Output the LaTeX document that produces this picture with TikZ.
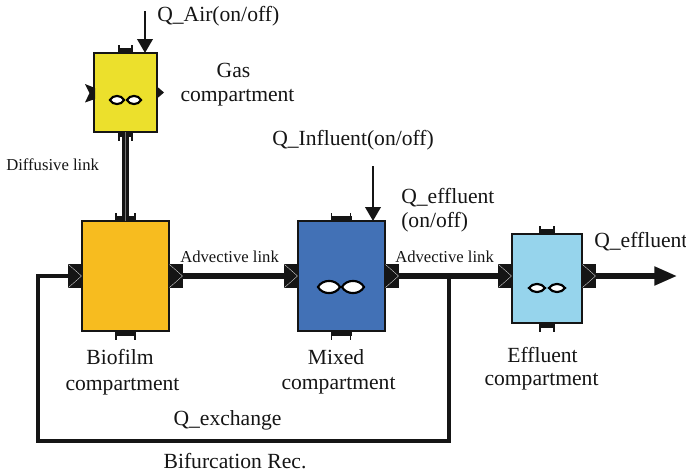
\documentclass[tikz,border=0pt]{standalone}
\usepackage{fontspec}
\setmainfont{Liberation Serif}
\usetikzlibrary{arrows.meta}
\definecolor{inkk}{HTML}{151515}
\tikzset{
  x=0.75pt,y=-0.75pt,
  tank/.style={draw=inkk,line width=1pt,inner sep=0pt,outer sep=0pt},
  portbox/.style={fill=inkk,inner sep=0pt,outer sep=0pt,minimum width=10.5pt,minimum height=18pt},
  thinport/.style={draw=white,line width=0.2pt},
  tab/.style={draw=inkk,line width=1.4pt},
  link/.style={draw=inkk,line width=3.8pt},
  core/.style={draw=black!55,line width=0.15pt},
  rec/.style={draw=inkk,line width=3.2pt,line join=miter},
  flow/.style={draw=inkk,line width=2.1pt,-{Triangle[length=10.5pt,width=11.5pt]}},
  outflow/.style={draw=inkk,line width=3.8pt,-{Triangle[length=17pt,width=13.5pt]}},
  bigq/.style={font=\fontsize{16.2}{18}\selectfont,text=inkk,inner sep=0pt,anchor=base},
  small/.style={font=\fontsize{12.5}{14}\selectfont,text=inkk,inner sep=0pt,anchor=base west},
  lens/.style={draw=black,fill=white,line width=1.6pt}
}
\newcommand{\lensat}[4]{\path[lens] (#1-#3,#2) .. controls (#1-#3*0.6,#2-#4*1.35) and (#1+#3*0.6,#2-#4*1.35) .. (#1+#3,#2) .. controls (#1+#3*0.6,#2+#4*1.35) and (#1-#3*0.6,#2+#4*1.35) .. cycle;}
\newcommand{\tabat}[4]{\fill[inkk] (#1-#3,#2) rectangle (#1+#3,#2+#4*5);
  \draw[tab] (#1-#3+1,#2) -- (#1-#3+1,#2+#4*8.5) (#1+#3-1,#2) -- (#1+#3-1,#2+#4*8.5);}
\begin{document}
\begin{tikzpicture}
\useasboundingbox (0,0) rectangle (686,475);
\fill[white] (0,0) rectangle (686,475);
% tanks
\node[tank,fill={rgb,255:red,236;green,224;blue,44},anchor=north west,minimum width=47.25pt,minimum height=59.25pt] (gas) at (94,53) {};
\node[tank,fill={rgb,255:red,247;green,188;blue,31},anchor=north west,minimum width=65.25pt,minimum height=82.5pt] (bio) at (82,221) {};
\node[tank,fill={rgb,255:red,66;green,113;blue,182},anchor=north west,minimum width=65.25pt,minimum height=82.5pt] (mix) at (298,221) {};
\node[tank,fill={rgb,255:red,150;green,212;blue,236},anchor=north west,minimum width=52.5pt,minimum height=66.75pt] (eff) at (512,234) {};
% ports
\node[portbox,anchor=east] (bioL) at (82,276) {};
\node[portbox,anchor=west] (bioR) at (169,276) {};
\node[portbox,anchor=east] (mixL) at (298,276) {};
\node[portbox,anchor=west] (mixR) at (385,276) {};
\node[portbox,anchor=east] (effL) at (512,276) {};
\node[portbox,anchor=west] (effR) at (582,276) {};
\foreach \n in {bioL,bioR,mixL,mixR,effL,effR}{
  \draw[thinport] ([shift={(-6.5,-11.5)}]\n.center) -- ([shift={(6.5,0)}]\n.center) -- ([shift={(-6.5,11.5)}]\n.center);
}
% gas side ports
\fill[inkk] (85,84) -- (95,88) -- (95,99) -- (85,102.5) -- (89.5,93) -- cycle;
\fill[inkk] (157,86.5) -- (164,92.5) -- (157,98.5) -- cycle;
% tabs
\tabat{125.5}{53}{7.5}{-1}
\tabat{125.5}{132}{7.5}{1}
\tabat{125.5}{221}{10.5}{-1}
\tabat{125.5}{331}{10.5}{1}
\tabat{341}{221}{10.5}{-1}
\tabat{341}{331}{10.5}{1}
\tabat{547}{234}{8}{-1}
\tabat{547}{323}{8}{1}
% lenses
\lensat{117}{100}{7}{4}
\lensat{134}{100}{7}{4}
\lensat{329}{287}{11}{6}
\lensat{353}{287}{11}{6}
\lensat{537}{288}{8}{4}
\lensat{557}{288}{8}{4}
% connectors
\coordinate (airtop) at (145,11);
\coordinate (airend) at (145,53);
\coordinate (inftop) at (373,166);
\coordinate (infend) at (373,221);
\coordinate (outend) at (677,276);
\coordinate (recA) at (38,276);
\coordinate (recB) at (38,441);
\coordinate (recC) at (449,441);
\coordinate (recD) at (449,276);
\draw[link,line width=5pt] (gas.south -| 125.5,0) -- (bio.north -| 125.5,0);
\draw[core] (gas.south -| 125.5,0) -- (bio.north -| 125.5,0);
\draw[link] (bioR) -- (mixL);
\draw[link] (mixR) -- (effL);
\draw[rec] (bioL) -- (recA) -- (recB) -- (recC) -- (recD);
\draw[flow] (airtop) -- (airend);
\draw[flow] (inftop) -- (infend);
\draw[outflow] (effR.east) -- (outend);
% labels
\node[bigq,anchor=base west] (lblAir) at (157,21) {Q\_Air(on/off)};
\node[bigq] (lblGas) at (233.5,77) {Gas};
\node[bigq] (lblGasc) at (237.5,101) {compartment};
\node[small] (lblDiff) at (6,170) {Diffusive link};
\node[bigq,anchor=base west] (lblInf) at (272,145) {Q\_Influent(on/off)};
\node[bigq,anchor=base west] (lblEff) at (401,203) {Q\_effluent};
\node[bigq,anchor=base west] (lblOn) at (401,227) {(on/off)};
\node[bigq,anchor=base west] (lblOut) at (594,247) {Q\_effluent};
\node[small] (lblAdvA) at (180,262) {Advective link};
\node[small] (lblAdvB) at (395,262) {Advective link};
\node[bigq] (lblBio) at (120,364) {Biofilm};
\node[bigq] (lblBioc) at (122.5,390) {compartment};
\node[bigq] (lblMix) at (336,364) {Mixed};
\node[bigq] (lblMixc) at (338.5,389) {compartment};
\node[bigq] (lblEf) at (542.5,362) {Effluent};
\node[bigq] (lblEfc) at (541.5,385) {compartment};
\node[bigq] (lblEx) at (227.5,425) {Q\_exchange};
\node[bigq] (lblBif) at (235,468) {Bifurcation Rec.};
\end{tikzpicture}
\end{document}
